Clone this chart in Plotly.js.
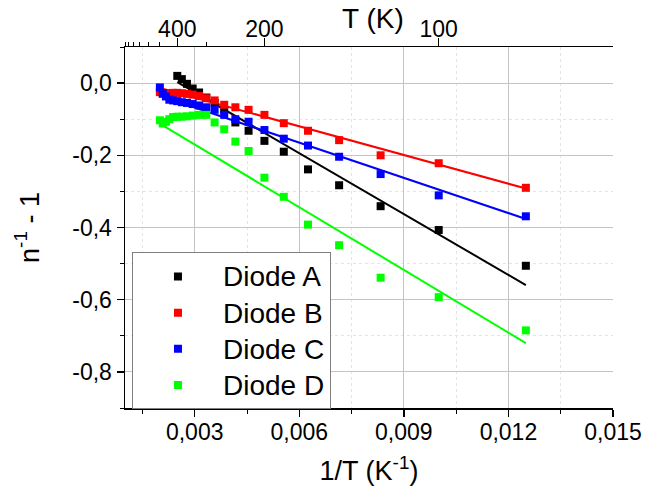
<!DOCTYPE html>
<html>
<head>
<meta charset="utf-8">
<script src="https://cdn.plot.ly/plotly-3.0.1.min.js"></script>
<style>html,body{margin:0;padding:0;background:#fff;}#chart{width:646px;height:486px;}</style>
</head>
<body>
<div id="chart"></div>
<script>
// Temperatures (K) of each measurement
const tempA = [400, 380, 360, 340, 320, 300, 280, 260, 240, 220, 200, 180, 160, 140, 120, 100, 80];
const tempBCD = [500, 480, 460, 440, 420, 400, 380, 360, 340, 320, 300, 280, 260, 240, 220, 200, 180, 160, 140, 120, 100, 80];
// n^-1 - 1 values
const diodeA = [0.020, 0.011, -0.002, -0.015, -0.026, -0.040, -0.055, -0.075, -0.109, -0.132, -0.160, -0.190, -0.239, -0.283, -0.341, -0.407, -0.506];
const diodeB = [-0.025, -0.030, -0.030, -0.028, -0.027, -0.027, -0.028, -0.030, -0.032, -0.036, -0.042, -0.048, -0.060, -0.067, -0.074, -0.088, -0.111, -0.132, -0.158, -0.200, -0.222, -0.290];
const diodeC = [-0.012, -0.028, -0.037, -0.046, -0.048, -0.050, -0.053, -0.055, -0.058, -0.062, -0.067, -0.074, -0.088, -0.100, -0.107, -0.130, -0.154, -0.173, -0.204, -0.252, -0.311, -0.369];
const diodeD = [-0.103, -0.112, -0.107, -0.100, -0.094, -0.093, -0.093, -0.092, -0.090, -0.088, -0.088, -0.109, -0.128, -0.162, -0.188, -0.262, -0.315, -0.392, -0.449, -0.539, -0.593, -0.685];
// linear fits: y = intercept + slope * (1/T)
const seriesNames = ['Diode A', 'Diode B', 'Diode C', 'Diode D'];
const seriesColors = ['#000000', '#ff0000', '#0000ff', '#00ff00'];
const fitSlope = [-56.2, -26.5, -32.5, -57.9];
const fitIntercept = [0.143, 0.0393, 0.030, 0.0036];
// axis ticks
const xTickVals = [0.003, 0.006, 0.009, 0.012, 0.015];
const xTickText = ['0,003', '0,006', '0,009', '0,012', '0,015'];
const xGridVals = [0.003, 0.006, 0.009, 0.012];
const yTickVals = [0.0, -0.2, -0.4, -0.6, -0.8];
const yTickText = ['0,0', '-0,2', '-0,4', '-0,6', '-0,8'];
const topTickT = [400, 200, 100];
const topMinorT = [1000, 900, 800, 700, 600, 500, 300];

const FONT = "Arial, 'Liberation Sans', sans-serif";
const inv = t => 1 / t;
const temps = [tempA, tempBCD, tempBCD, tempBCD];
const values = [diodeA, diodeB, diodeC, diodeD];

const traces = [];
for (let i = 0; i < 4; i++) {
  const xs = temps[i].map(inv);
  const xmin = Math.min(...xs), xmax = Math.max(...xs);
  traces.push({
    x: [xmin, xmax],
    y: [fitIntercept[i] + fitSlope[i] * xmin, fitIntercept[i] + fitSlope[i] * xmax],
    mode: 'lines', line: {color: seriesColors[i], width: 2},
    showlegend: false, hoverinfo: 'skip'
  });
}
for (let i = 0; i < 4; i++) {
  traces.push({
    x: temps[i].map(inv), y: values[i], name: '<span style="font-size:28px">' + seriesNames[i] + '</span>',
    mode: 'markers', marker: {symbol: 'square', size: 8, color: seriesColors[i]}
  });
}
// carrier traces so the top (temperature) axis and the grid axis are drawn
traces.push({x: topTickT.map(inv), y: topTickT.map(() => null), xaxis: 'x2', mode: 'markers', showlegend: false, hoverinfo: 'skip'});
traces.push({x: xGridVals, y: xGridVals.map(() => null), xaxis: 'x3', mode: 'markers', showlegend: false, hoverinfo: 'skip'});

const layout = {
  width: 646, height: 486,
  margin: {l: 125, r: 33, t: 47, b: 78},
  paper_bgcolor: '#fff', plot_bgcolor: '#fff',
  font: {family: FONT, size: 23, color: '#000'},
  showlegend: true,
  legend: {
    x: 0.0143, y: 0.431, xanchor: 'left', yanchor: 'top',
    bgcolor: '#fff', bordercolor: '#7f7f7f', borderwidth: 1,
    font: {family: FONT, size: 25.5, color: '#000'},
    itemwidth: 80, tracegroupgap: 0
  },
  xaxis: {
    range: [0.001, 0.015], tickmode: 'array', tickvals: xTickVals, ticktext: xTickText,
    showline: true, linecolor: '#000', linewidth: 1.5, ticks: 'outside', ticklen: 7, tickwidth: 1.5, tickcolor: '#000',
    showgrid: false, zeroline: false, ticklabelstandoff: -4,
    minor: {tick0: 0.0015, dtick: 0.003, ticks: 'outside', ticklen: 4, tickwidth: 1, tickcolor: '#000', showgrid: false},
    tickfont: {family: FONT, size: 23},
    title: {text: '1/T (K<sup>-1</sup>)', font: {family: FONT, size: 27}, standoff: 19}
  },
  xaxis2: {
    overlaying: 'x', side: 'top', anchor: 'y', range: [0.001, 0.015],
    tickmode: 'array', tickvals: topTickT.map(inv), ticktext: topTickT.map(String),
    showline: true, linecolor: '#000', linewidth: 1.5, ticks: 'outside', ticklen: 8, tickwidth: 1.5, tickcolor: '#000',
    showgrid: false, zeroline: false, ticklabelstandoff: -9,
    minor: {tickmode: 'array', tickvals: topMinorT.map(inv), ticks: 'outside', ticklen: 4, tickwidth: 1, tickcolor: '#000', showgrid: false},
    tickfont: {family: FONT, size: 23}
  },
  xaxis3: {
    overlaying: 'x', side: 'bottom', anchor: 'y', range: [0.001, 0.015],
    tickmode: 'array', tickvals: xGridVals, showticklabels: false, ticks: '',
    showline: false, zeroline: false,
    showgrid: true, gridcolor: '#c4c4c4', gridwidth: 1,
    minor: {tick0: 0.0015, dtick: 0.003, ticks: '', showgrid: true, gridcolor: '#e4e4e4', griddash: 'dot', gridwidth: 1}
  },
  yaxis: {
    range: [-0.9, 0.1], tickmode: 'array', tickvals: yTickVals, ticktext: yTickText,
    showline: true, linecolor: '#000', linewidth: 1.5, ticks: 'outside', ticklen: 7, tickwidth: 1.5, tickcolor: '#000',
    showgrid: true, gridcolor: '#c4c4c4', gridwidth: 1, zeroline: false,
    minor: {tick0: 0.1, dtick: 0.2, ticks: 'outside', ticklen: 4, tickwidth: 1, tickcolor: '#000', showgrid: true, gridcolor: '#e4e4e4', griddash: 'dot', gridwidth: 1},
    tickfont: {family: FONT, size: 23},
    title: {text: 'n<sup>-1</sup> - 1', font: {family: FONT, size: 27}, standoff: 25}
  },
  annotations: [{
    text: 'T (K)', xref: 'paper', yref: 'paper', x: 0.509, y: 1.0776,
    xanchor: 'center', yanchor: 'middle', showarrow: false,
    font: {family: FONT, size: 28, color: '#000'}
  }]
};

Plotly.newPlot('chart', traces, layout, {staticPlot: true, displayModeBar: false});
</script>
</body>
</html>
